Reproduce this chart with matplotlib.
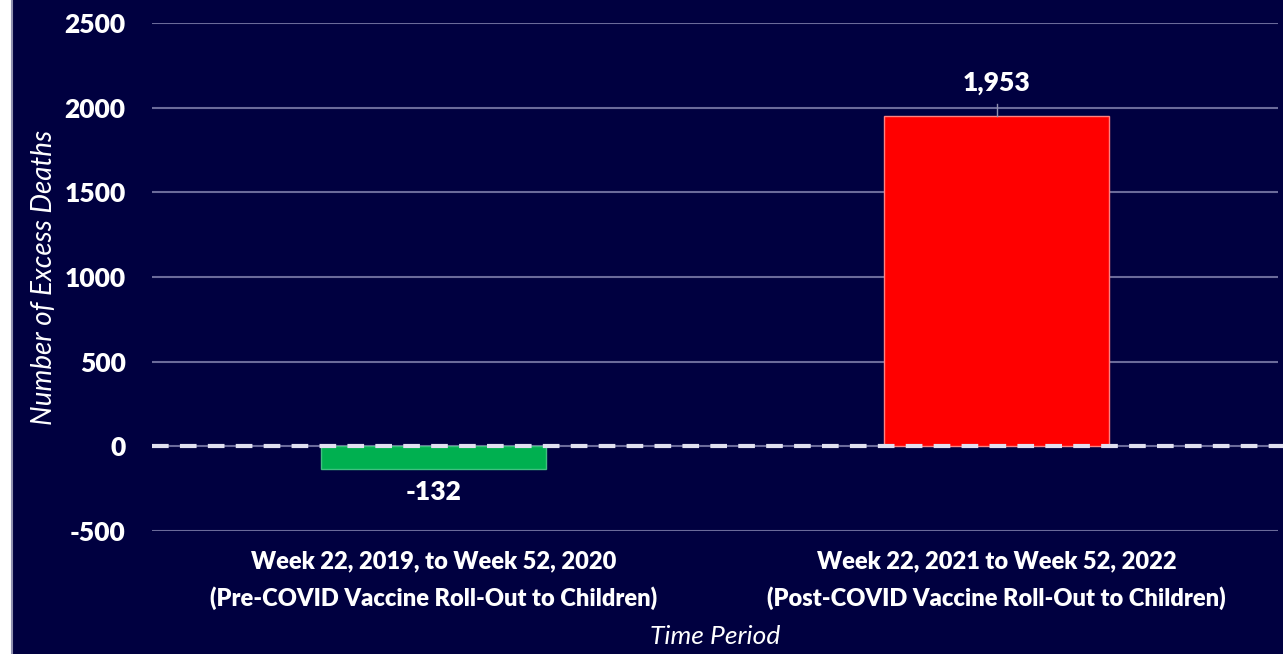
import matplotlib.pyplot as plt
from matplotlib.patches import Rectangle
from matplotlib.lines import Line2D

# data
periods = ["Week 22, 2019, to Week 52, 2020\n(Pre-COVID Vaccine Roll-Out to Children)",
           "Week 22, 2021 to Week 52, 2022\n(Post-COVID Vaccine Roll-Out to Children)"]
excess = [-132, 1953]
bar_labels = ["-132", "1,953"]
bar_colors = ["#00b050", "#ff0000"]
yticks = [-500, 0, 500, 1000, 1500, 2000, 2500]

navy = "#000040"
plt.rcParams['font.family'] = ["Lato", "DejaVu Sans"]

fig = plt.figure(figsize=(12.83, 6.54), dpi=100)
fig.patch.set_facecolor(navy)
# white strip on left edge
fig.add_artist(Rectangle((0, 0), 12/1283, 1, transform=fig.transFigure, facecolor="white", edgecolor="none"))
fig.add_artist(Line2D([12/1283, 12/1283], [0, 1], transform=fig.transFigure, color="#9090b0", lw=1.5))

ax = fig.add_axes([152/1283, 1 - 531/654, (1278 - 152)/1283, (531 - 23)/654])
ax.set_facecolor(navy)
ax.patch.set_alpha(0)

x = range(len(excess))
ax.bar(x, excess, width=0.4, color=bar_colors, edgecolor=["#40c080", "#ff8080"], linewidth=1, zorder=3)

ax.set_xlim(-0.5, 1.5)
ax.set_ylim(-500, 2500)
ax.set_yticks(yticks)
ax.set_yticklabels([str(v) for v in yticks])
ax.grid(axis="y", color="#6a6a9a", lw=1.5, zorder=0)
ax.axhline(0, color="#e0e0f0", lw=3, ls=(0, (4, 2.7)), zorder=4, clip_on=False, xmax=1.005)

for s in ax.spines.values():
    s.set_visible(False)
ax.tick_params(length=0, colors="white")
ax.tick_params(axis="y", pad=19, labelsize=19)
ax.tick_params(axis="x", pad=14, labelsize=17)
ax.set_xticks(list(x))
ax.set_xticklabels(periods, fontweight="heavy", color="white", linespacing=1.7)
for t in ax.get_yticklabels():
    t.set_fontweight("heavy")

# value labels
ax.text(0, excess[0] - 140, bar_labels[0], ha="center", va="center", color="white", fontsize=19, fontweight="heavy")
ax.text(1, excess[1] + 190, bar_labels[1], ha="center", va="center", color="white", fontsize=19, fontweight="heavy")
ax.plot([1, 1], [excess[1], excess[1] + 70], color="#9090b0", lw=1, zorder=3)

ax.set_ylabel("Number of Excess Deaths", fontstyle="italic", color="white", fontsize=20)
ax.yaxis.set_label_coords(-0.084, 0.5)
ax.set_xlabel("Time Period", fontstyle="italic", color="white", fontsize=19, labelpad=11)

fig.savefig("out.png", dpi=100, facecolor=navy)
